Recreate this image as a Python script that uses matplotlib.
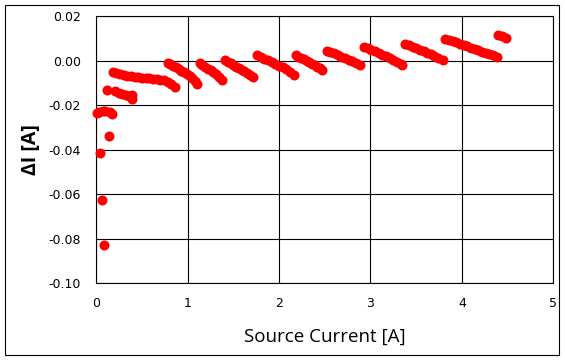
#!/usr/bin/env python3
import matplotlib
matplotlib.use("Agg")
import matplotlib.pyplot as plt
from matplotlib.patches import Rectangle

plt.rcParams['axes.unicode_minus'] = False

# Source current [A] (one segment per line)
source_current = [
    0.01, 0.03, 0.04, 0.06, 0.07, 0.08, 0.10, 0.12, 0.14, 0.15, 0.17,
    0.21, 0.25, 0.28, 0.32, 0.36, 0.39, 0.39,
    0.18, 0.22, 0.26, 0.30, 0.34, 0.38, 0.42, 0.46, 0.50, 0.54, 0.58, 0.62, 0.66, 0.70, 0.74, 0.78, 0.82, 0.86,
    0.78, 0.81, 0.84, 0.87, 0.90, 0.93, 0.96, 0.99, 1.02, 1.05, 1.08, 1.10,
    1.13, 1.16, 1.19, 1.22, 1.25, 1.28, 1.31, 1.34, 1.37,
    1.41, 1.44, 1.47, 1.50, 1.53, 1.56, 1.59, 1.62, 1.65, 1.68, 1.71,
    1.76, 1.80, 1.84, 1.88, 1.92, 1.96, 2.00, 2.04, 2.08, 2.12, 2.16,
    2.18, 2.21, 2.24, 2.27, 2.30, 2.33, 2.36, 2.39, 2.42, 2.45, 2.47,
    2.52, 2.56, 2.60, 2.64, 2.68, 2.72, 2.76, 2.80, 2.84, 2.88,
    2.93, 2.97, 3.01, 3.05, 3.09, 3.13, 3.17, 3.21, 3.25, 3.29, 3.33, 3.35,
    3.38, 3.42, 3.46, 3.50, 3.54, 3.58, 3.62, 3.66, 3.70, 3.74, 3.79,
    3.82, 3.86, 3.90, 3.94, 3.98, 4.02, 4.06, 4.10, 4.14, 4.18, 4.22, 4.26, 4.30, 4.34, 4.38,
    4.40, 4.44, 4.48,
]

# Delta I [A]
delta_i = [
    -0.0233, -0.0230, -0.0416, -0.0626, -0.0226, -0.0831, -0.0224, -0.0133, -0.0339, -0.0232, -0.0240,
    -0.0137, -0.0145, -0.0148, -0.0153, -0.0158, -0.0155, -0.0173,
    -0.0049, -0.0055, -0.0060, -0.0064, -0.0068, -0.0070, -0.0072, -0.0074, -0.0076, -0.0077, -0.0078, -0.0080, -0.0082, -0.0085, -0.0088, -0.0094, -0.0104, -0.0116,
    -0.0008, -0.0015, -0.0022, -0.0030, -0.0037, -0.0044, -0.0052, -0.0060, -0.0068, -0.0078, -0.0090, -0.0104,
    -0.0008, -0.0017, -0.0026, -0.0035, -0.0043, -0.0051, -0.0060, -0.0072, -0.0086,
    0.0004, -0.0004, -0.0012, -0.0019, -0.0026, -0.0033, -0.0040, -0.0048, -0.0055, -0.0063, -0.0072,
    0.0024, 0.0017, 0.0010, 0.0002, -0.0006, -0.0014, -0.0022, -0.0030, -0.0039, -0.0049, -0.0062,
    0.0024, 0.0018, 0.0012, 0.0006, -0.0001, -0.0007, -0.0013, -0.0020, -0.0027, -0.0034, -0.0041,
    0.0045, 0.0039, 0.0033, 0.0026, 0.0019, 0.0012, 0.0004, -0.0003, -0.0010, -0.0017,
    0.0064, 0.0056, 0.0049, 0.0042, 0.0035, 0.0028, 0.0020, 0.0013, 0.0005, -0.0004, -0.0014, -0.0021,
    0.0076, 0.0070, 0.0063, 0.0057, 0.0050, 0.0044, 0.0037, 0.0030, 0.0022, 0.0013, 0.0002,
    0.0100, 0.0094, 0.0088, 0.0083, 0.0077, 0.0071, 0.0065, 0.0059, 0.0053, 0.0047, 0.0041, 0.0036, 0.0030, 0.0025, 0.0018,
    0.0115, 0.0110, 0.0103,
]

x_ticks = [0, 1, 2, 3, 4, 5]
y_ticks = [-0.10, -0.08, -0.06, -0.04, -0.02, 0.00, 0.02]

fig = plt.figure(figsize=(5.65, 3.61), dpi=100)
ax = fig.add_axes([0.1704, 0.2161, 0.8089, 0.7387])

ax.plot(source_current, delta_i, linestyle='none', marker='o',
        markersize=7.2, color='#FF0000', markeredgewidth=0, zorder=3,
        clip_on=False)

ax.set_xlim(0, 5)
ax.set_ylim(-0.10, 0.02)
ax.set_xticks(x_ticks)
ax.set_yticks(y_ticks)
ax.set_xticklabels([str(t) for t in x_ticks])
ax.set_yticklabels(['%.2f' % t for t in y_ticks])
ax.tick_params(length=0, labelsize=9, colors='#000000')
ax.tick_params(axis='x', pad=10)
ax.tick_params(axis='y', pad=11)

# black grid, Excel style
ax.set_axisbelow(True)
ax.grid(True, color='black', linewidth=0.8)
for s in ax.spines.values():
    s.set_color('black')
    s.set_linewidth(0.8)

ax.set_xlabel('Source Current [A]', fontsize=13.5, family='Open Sans')
ax.xaxis.set_label_coords(0.5, -0.2)
ax.xaxis.label.set_va('center')
ax.set_ylabel('\u0394I [A]', fontsize=14, family='Open Sans', weight='bold')
ax.yaxis.set_label_coords(-0.142, 0.5)
ax.yaxis.label.set_va('center')

# outer chart border
fig.patches.append(Rectangle((0.0097, 0.0158), 0.979, 0.9695, transform=fig.transFigure,
                             fill=False, edgecolor='black', linewidth=0.8))

plt.savefig('out.png', dpi=100)
